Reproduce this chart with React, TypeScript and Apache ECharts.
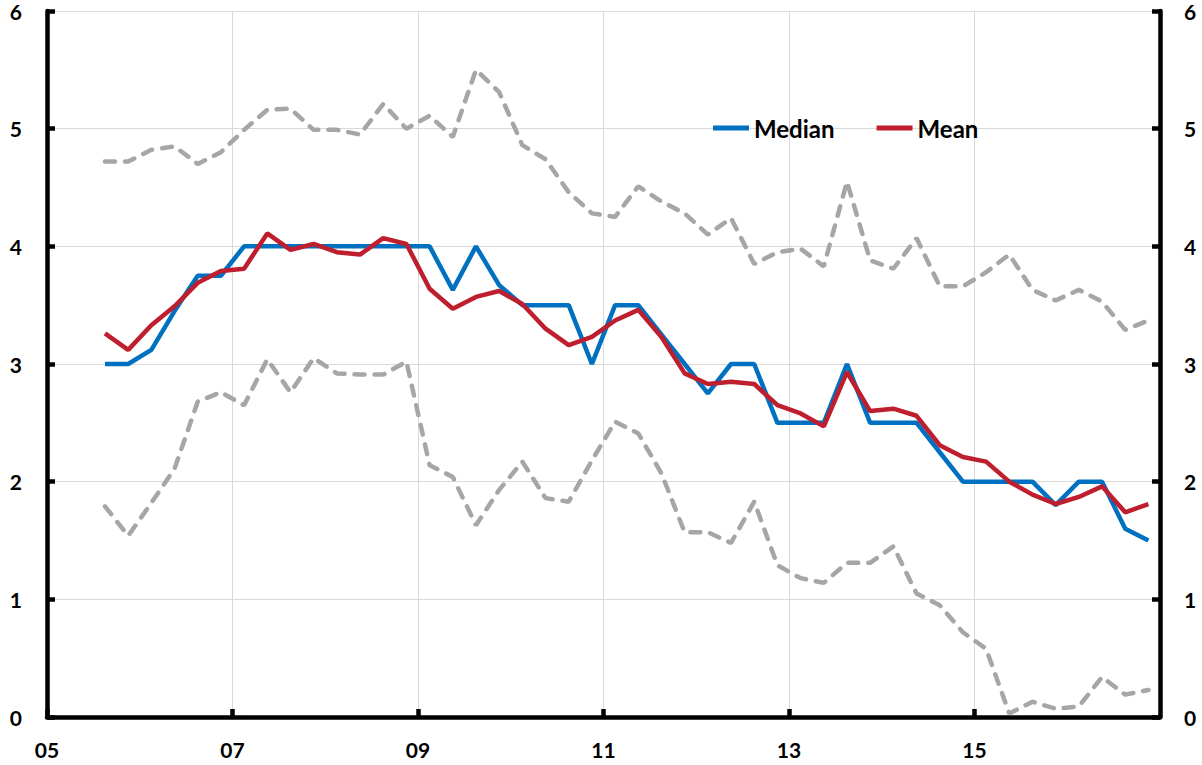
import React, { useEffect, useRef } from "react";
import * as echarts from "echarts";

// Quarterly observations, 2005Q3 .. 2016Q4
const startYear = 2005;
const startQuarter = 3;
const quarterCount = 46;
const quarters: string[] = Array.from({ length: quarterCount }, (_, i) => {
  const q0 = startQuarter - 1 + i;
  return `${startYear + Math.floor(q0 / 4)}Q${(q0 % 4) + 1}`;
});

const median = [3.0, 3.0, 3.12, 3.45, 3.75, 3.75, 4, 4, 4, 4, 4, 4, 4, 4, 4, 3.63, 4, 3.67, 3.5, 3.5, 3.5, 3.0, 3.5, 3.5, 3.25, 3.0, 2.75, 3.0, 3.0, 2.5, 2.5, 2.5, 3.0, 2.5, 2.5, 2.5, 2.25, 2.0, 2.0, 2.0, 2.0, 1.8, 2.0, 2.0, 1.6, 1.5];
const mean = [3.26, 3.12, 3.33, 3.49, 3.69, 3.79, 3.81, 4.11, 3.97, 4.02, 3.95, 3.93, 4.07, 4.02, 3.64, 3.47, 3.57, 3.62, 3.51, 3.3, 3.16, 3.23, 3.37, 3.46, 3.23, 2.92, 2.83, 2.85, 2.83, 2.65, 2.58, 2.47, 2.93, 2.6, 2.62, 2.56, 2.31, 2.21, 2.17, 2.0, 1.89, 1.81, 1.87, 1.96, 1.74, 1.81];
const upper = [4.72, 4.72, 4.82, 4.85, 4.7, 4.8, 4.99, 5.16, 5.17, 4.99, 4.99, 4.95, 5.21, 5.0, 5.11, 4.93, 5.5, 5.31, 4.86, 4.74, 4.46, 4.28, 4.25, 4.51, 4.38, 4.28, 4.1, 4.24, 3.85, 3.95, 3.98, 3.83, 4.55, 3.88, 3.81, 4.07, 3.66, 3.66, 3.78, 3.93, 3.63, 3.54, 3.63, 3.53, 3.29, 3.37];
const lower = [1.79, 1.54, 1.82, 2.11, 2.68, 2.76, 2.65, 3.04, 2.76, 3.05, 2.92, 2.91, 2.91, 3.02, 2.14, 2.04, 1.63, 1.93, 2.17, 1.86, 1.83, 2.18, 2.51, 2.41, 2.07, 1.57, 1.57, 1.48, 1.83, 1.29, 1.18, 1.14, 1.31, 1.31, 1.45, 1.05, 0.95, 0.72, 0.58, 0.03, 0.13, 0.07, 0.09, 0.34, 0.19, 0.23];

const xMin = 2005;
const xMax = 2017;
const xStep = 2;
const yMin = 0;
const yMax = 6;
const yStep = 1;

// mid-quarter position on a continuous year axis
const qToX = (q: string) => {
  const y = parseInt(q.slice(0, 4), 10);
  const n = parseInt(q.slice(5), 10);
  return y + (n - 1) * 0.25 + 0.125;
};
const pairs = (vals: number[]) => quarters.map((q, i) => [qToX(q), vals[i]]);

const FONT = "Lato, 'Open Sans', sans-serif";

export default function App() {
  const ref = useRef<HTMLDivElement>(null);
  useEffect(() => {
    document.body.style.margin = "0";
    if (!ref.current) return;
    const chart = echarts.init(ref.current, undefined, { renderer: "svg" });
    const axisLabelStyle = { color: "#000", fontFamily: FONT, fontWeight: "bold" as const, fontSize: 21 };
    const dashed = { color: "#a6a6a6", width: 4.5, type: [10, 10], cap: "round" };
    chart.setOption({
      animation: false,
      backgroundColor: "#fff",
      grid: { left: 47, right: 42, top: 11, bottom: 48, containLabel: false },
      legend: {
        data: ["Median", "Mean"],
        left: 708,
        top: 111,
        icon: "rect",
        itemWidth: 36,
        itemHeight: 5,
        itemGap: 42,
        textStyle: { color: "#000", fontFamily: FONT, fontWeight: "bold", fontSize: 24 },
      },
      xAxis: {
        type: "value",
        min: xMin,
        max: xMax,
        interval: xStep,
        axisLine: { show: true, onZero: false, lineStyle: { color: "#000", width: 4.5 } },
        axisTick: { show: true, inside: true, length: 8, lineStyle: { color: "#000", width: 4.5 } },
        axisLabel: {
          ...axisLabelStyle,
          margin: 22,
          showMaxLabel: false,
          formatter: (v: number) => (v >= xMax ? "" : String(v).slice(2)),
        },
        splitLine: { show: true, lineStyle: { color: "#d9d9d9", width: 1 } },
      },
      yAxis: [
        {
          type: "value",
          min: yMin,
          max: yMax,
          interval: yStep,
          position: "left",
          axisLine: { show: true, lineStyle: { color: "#000", width: 4.5 } },
          axisTick: { show: true, inside: true, length: 8, lineStyle: { color: "#000", width: 4.5 } },
          axisLabel: { ...axisLabelStyle, margin: 25 },
          splitLine: { show: true, lineStyle: { color: "#d9d9d9", width: 1 } },
        },
        {
          type: "value",
          min: yMin,
          max: yMax,
          interval: yStep,
          position: "right",
          axisLine: { show: true, lineStyle: { color: "#000", width: 4.5 } },
          axisTick: { show: true, inside: true, length: 8, lineStyle: { color: "#000", width: 4.5 } },
          axisLabel: { ...axisLabelStyle, margin: 24 },
          splitLine: { show: false },
        },
      ],
      series: [
        {
          name: "Upper",
          type: "line",
          data: pairs(upper),
          showSymbol: false,
          lineStyle: dashed,
          itemStyle: { color: "#a6a6a6" },
          z: 1,
        },
        {
          name: "Lower",
          type: "line",
          data: pairs(lower),
          showSymbol: false,
          lineStyle: dashed,
          itemStyle: { color: "#a6a6a6" },
          z: 1,
        },
        {
          name: "Median",
          type: "line",
          data: pairs(median),
          showSymbol: false,
          lineStyle: { color: "#0070c0", width: 4.5 },
          itemStyle: { color: "#0070c0" },
          z: 2,
        },
        {
          name: "Mean",
          type: "line",
          data: pairs(mean),
          showSymbol: false,
          lineStyle: { color: "#be1e2d", width: 4.5 },
          itemStyle: { color: "#be1e2d" },
          z: 3,
        },
      ],
    });
    return () => chart.dispose();
  }, []);
  return <div ref={ref} style={{ width: 1202, height: 765 }} />;
}
